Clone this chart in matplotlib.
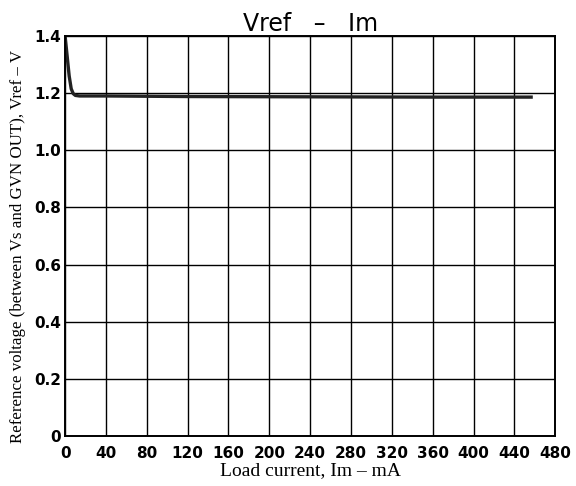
import matplotlib
matplotlib.use("Agg")
import matplotlib.pyplot as plt

# Vref vs load current
current_ma = [0, 2, 4, 6, 8, 10, 14, 40, 120, 240, 360, 458]
vref_v = [1.40, 1.33, 1.26, 1.215, 1.198, 1.192, 1.19, 1.19, 1.188, 1.187, 1.186, 1.186]

x_ticks = [0, 40, 80, 120, 160, 200, 240, 280, 320, 360, 400, 440, 480]
y_ticks = [0, 0.2, 0.4, 0.6, 0.8, 1.0, 1.2, 1.4]
y_labels = ["0", "0.2", "0.4", "0.6", "0.8", "1.0", "1.2", "1.4"]

fig = plt.figure(figsize=(5.76, 4.86), dpi=100)
ax = fig.add_axes([0.113, 0.103, 0.851, 0.823])

ax.plot(current_ma, vref_v, color="#222222", lw=2.4, solid_capstyle="butt")

ax.set_xlim(0, 480)
ax.set_ylim(0, 1.4)
ax.set_xticks(x_ticks)
ax.set_yticks(y_ticks)
ax.set_yticklabels(y_labels)
ax.grid(True, color="black", lw=1.0)
ax.tick_params(length=0, labelsize=11)
ax.tick_params(axis="x", pad=7)
ax.tick_params(axis="y", pad=3)
for lab in ax.get_xticklabels() + ax.get_yticklabels():
    lab.set_fontweight("bold")
for s in ax.spines.values():
    s.set_linewidth(1.4)

ax.set_title("Vref   \u2013   Im", fontsize=17, pad=3)
ax.set_xlabel("Load current, Im \u2013 mA", family="Liberation Serif", fontsize=14, labelpad=1)
ax.set_ylabel("Reference voltage (between Vs and GVN OUT), Vref \u2013 V",
              family="Liberation Serif", fontsize=12.2)
ax.yaxis.set_label_coords(-0.08, 0.475)

fig.savefig("out.png", dpi=100)
